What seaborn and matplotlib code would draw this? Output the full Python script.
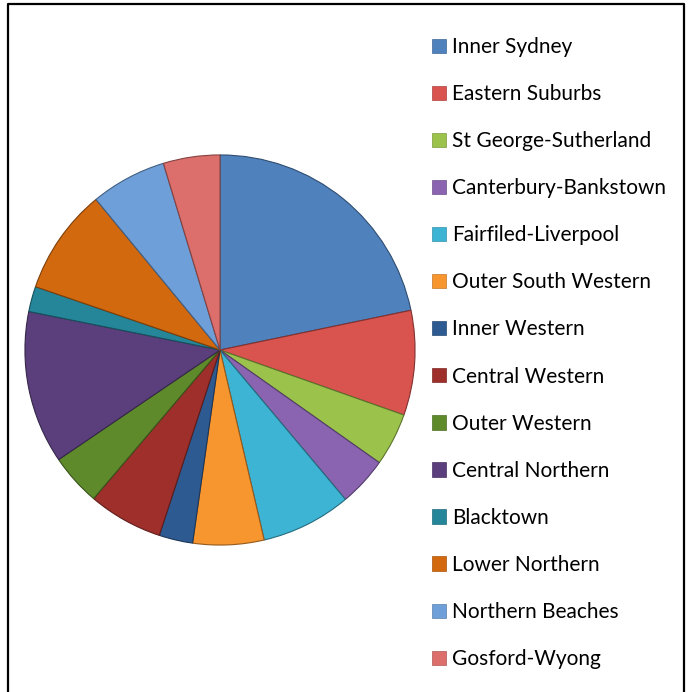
import numpy as np
import seaborn as sns
import matplotlib
matplotlib.use("Agg")
import matplotlib.pyplot as plt
from matplotlib.patches import Patch
from matplotlib.lines import Line2D
from matplotlib.colors import to_rgb

# Regions and their share (%)
regions = ["Inner Sydney", "Eastern Suburbs", "St George-Sutherland",
           "Canterbury-Bankstown", "Fairfiled-Liverpool", "Outer South Western",
           "Inner Western", "Central Western", "Outer Western",
           "Central Northern", "Blacktown", "Lower Northern",
           "Northern Beaches", "Gosford-Wyong"]
shares = [21.8, 8.7, 4.4, 4.1, 7.5, 5.9, 2.8, 6.2, 4.3, 12.7, 2.1, 8.8, 6.3, 4.7]

colors = ["#4F81BD", "#D9534F", "#9BC24B", "#8A64B0", "#3EB4D4", "#F7962E",
          "#2E5A92", "#9E2F2B", "#5E8A2C", "#5A3F7C", "#25869A", "#D2690F",
          "#6E9FD8", "#DC6E6C"]

sns.set_theme(style="white")
plt.rcParams['font.family'] = ['Lato', 'DejaVu Sans']
plt.rcParams['text.color'] = 'black'

W, H = 691, 692
fig = plt.figure(figsize=(W / 100, H / 100), dpi=100)
fig.patch.set_facecolor("white")

# pie: centre (220, 350) px, radius 197 px
cx, cy, r = 220, 350, 197
ax = fig.add_axes([(cx - r) / W, (H - cy - r) / H, 2 * r / W, 2 * r / H])
wedges, _ = ax.pie(shares, colors=colors, startangle=90, counterclock=False,
                   radius=1, wedgeprops=dict(linewidth=0.8))
for w, c in zip(wedges, colors):
    w.set_edgecolor(tuple(v * 0.6 for v in to_rgb(c)))
ax.set_xlim(-1.01, 1.01)
ax.set_ylim(-1.01, 1.01)
ax.set_aspect("equal")
ax.axis("off")

# legend on the right
handles = [Patch(facecolor=c, edgecolor=tuple(v * 0.8 for v in to_rgb(c)), linewidth=0.5)
           for c in colors]
fig.legend(handles, regions, loc="upper left", bbox_to_anchor=(432 / W, 1 - 37 / H),
           frameon=False, fontsize=15, labelspacing=1.30,
           handlelength=0.68, handleheight=0.68, handletextpad=0.3,
           borderaxespad=0, borderpad=0, labelcolor="black")

# outer frame (no bottom edge visible)
fig.add_artist(Line2D([8 / W, 8 / W, 684 / W, 684 / W],
                      [-0.01, 1 - 4 / H, 1 - 4 / H, -0.01],
                      color="black", linewidth=1.6, transform=fig.transFigure))

fig.savefig("out.png", dpi=100)
